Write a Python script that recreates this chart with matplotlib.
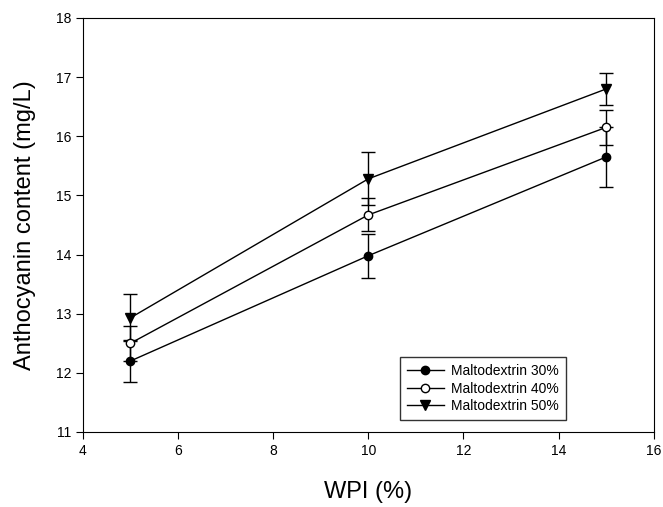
import matplotlib.pyplot as plt
from matplotlib.lines import Line2D

plt.rcParams['font.family'] = ['Liberation Sans', 'DejaVu Sans']

# Datos
wpi = [5, 10, 15]
md30 = [12.2, 13.98, 15.65]
md30_err = [0.35, 0.37, 0.5]
md40 = [12.5, 14.67, 16.15]
md40_err = [0.3, 0.28, 0.3]
md50 = [12.93, 15.28, 16.8]
md50_err = [0.4, 0.45, 0.27]
etiquetas = ["Maltodextrin 30%", "Maltodextrin 40%", "Maltodextrin 50%"]

fig = plt.figure(figsize=(6.63, 5.07), dpi=100)
ax = fig.add_axes([0.125, 0.148, 0.861, 0.8165])

estilos = [('o', 'black', 6), ('o', 'white', 6), ('v', 'black', 7)]
series = [(md30, md30_err), (md40, md40_err), (md50, md50_err)]

manijas = []
for (y, err), (m, fc, ms), lab in zip(series, estilos, etiquetas):
    ax.errorbar(wpi, y, yerr=err, color='black', marker=m, markersize=ms,
                markerfacecolor=fc, lw=1, capsize=5, elinewidth=1)
    manijas.append(Line2D([], [], color='black', marker=m, markersize=ms,
                          markerfacecolor=fc, lw=1, label=lab))

ax.set_xlim(4, 16)
ax.set_ylim(11, 18)
ax.set_xticks(range(4, 17, 2))
ax.set_yticks(range(11, 19))
ax.tick_params(direction='out', length=5, labelsize=10)

ax.set_xlabel("WPI (%)", fontsize=17, labelpad=17)
ax.set_ylabel("Anthocyanin content (mg/L)", fontsize=17, labelpad=14)

leg = ax.legend(handles=manijas, loc='lower right', bbox_to_anchor=(0.846, 0.029),
                borderaxespad=0, fancybox=False, edgecolor='black', fontsize=10,
                handlelength=2.7, labelspacing=0.25, borderpad=0.5, handletextpad=0.5)
leg.get_frame().set_linewidth(1)

plt.savefig("out.png", dpi=100)
